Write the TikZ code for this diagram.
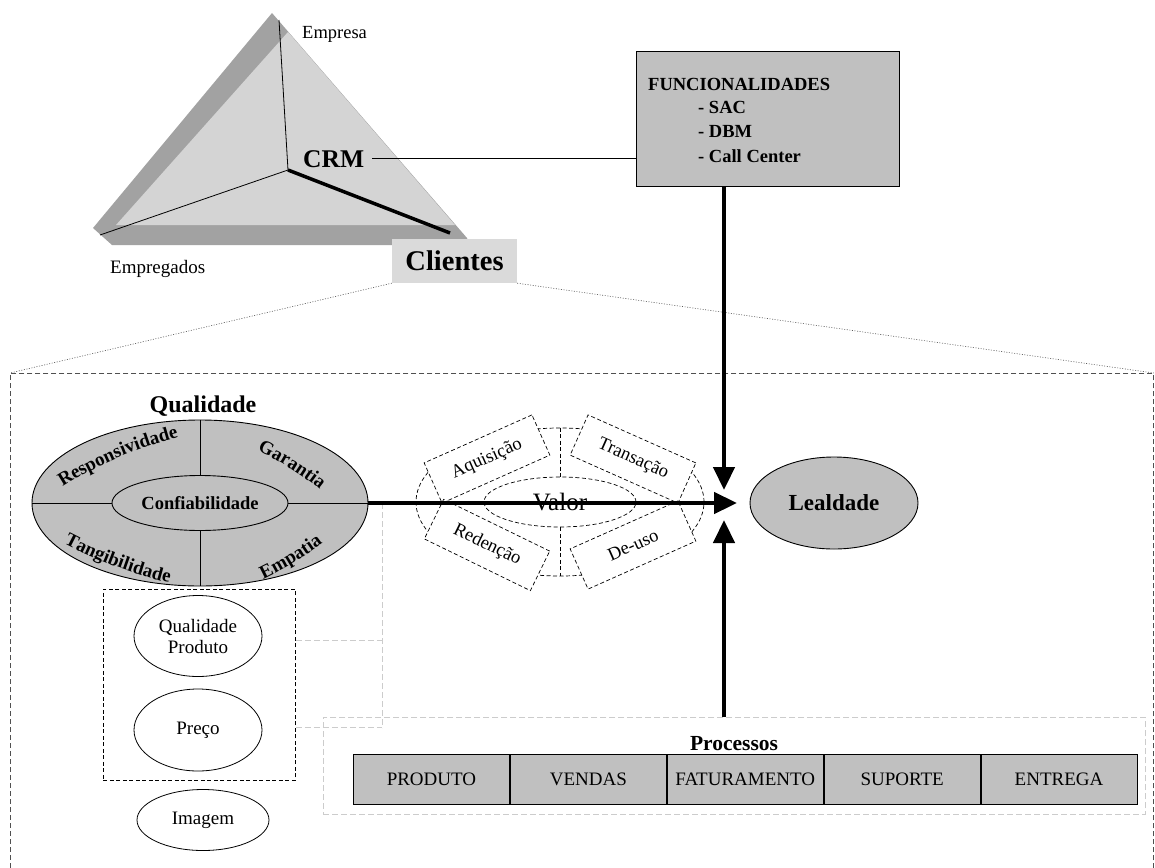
\documentclass[tikz,border=0pt]{standalone}
\usepackage{fontspec}
\setmainfont{Liberation Serif}
\usetikzlibrary{shapes.geometric,decorations.text,arrows.meta,calc}

\definecolor{boxgray}{HTML}{C0C0C0}
\definecolor{facegray}{HTML}{D4D4D4}
\definecolor{bandgray}{HTML}{A2A2A2}
\definecolor{tabgray}{HTML}{DADADA}
\definecolor{ghost}{HTML}{CCCCCC}
\definecolor{framegray}{HTML}{505050}

\newcommand{\pxfont}[1]{\fontsize{#1}{#1}\selectfont}

\begin{document}
\begin{tikzpicture}[x=1pt,y=1pt,
  graybox/.style={draw=black, fill=boxgray, line width=0.9pt},
  grayell/.style={ellipse, draw=black, fill=boxgray, line width=0.9pt, inner sep=0pt},
  whiteell/.style={ellipse, draw=black, fill=white, line width=0.8pt, inner sep=0pt, align=center, font=\fontsize{19}{21}\selectfont},
  valdash/.style={draw=black, dash pattern=on 4pt off 2.5pt, line width=0.7pt},
  valbox/.style={valdash, fill=white, minimum width=118pt, minimum height=44pt, inner sep=0pt, font=\pxfont{18.5}},
  bigarrow/.style={line width=4.5pt, -{Triangle[length=23pt,width=21pt]}},
  ghostline/.style={draw=ghost, dash pattern=on 6pt off 3pt, line width=0.8pt},
  dotline/.style={draw=black!65, dash pattern=on 1pt off 1.6pt, line width=0.6pt},
  procbox/.style={graybox, minimum width=156pt, minimum height=50pt, inner sep=0pt, font=\pxfont{19}},
  plain/.style={inner sep=0pt},
  arclabel/.style={decorate, decoration={text along path, text align=center, text={|\bfseries\pxfont{19}|#1}}},
]
\useasboundingbox (0,0) rectangle (1155,-867);

% ---------- CRM pyramid ----------
\fill[bandgray] (272,-13) -- (467,-238) -- (470,-245) -- (112,-245) -- (93,-228) -- cycle;
\fill[facegray] (288,-32) -- (455,-225) -- (116,-225) -- cycle;
\coordinate (hub) at (288,-170);
\coordinate (topend) at (279,-20);
\coordinate (leftend) at (100,-235);
\coordinate (rightend) at (450,-233);
\draw[line width=0.8pt] (hub) -- (topend);
\draw[line width=0.8pt] (hub) -- (leftend);
\draw[line width=3.5pt] (hub) -- (rightend);

\node[plain, anchor=base west, font=\pxfont{18.5}] (empresa) at (302,-39) {Empresa};
\node[plain, anchor=base west, font=\pxfont{19}] (empregados) at (110,-273) {Empregados};
\node[plain, anchor=base west, font=\bfseries\pxfont{25.5}] (crm) at (303,-167) {CRM};
\node[fill=tabgray, minimum width=125pt, minimum height=44pt, inner sep=0pt, font=\bfseries\pxfont{28.5}] (clientes) at (454.5,-261) {Clientes};

% ---------- functionalities ----------
\node[graybox, minimum width=263pt, minimum height=135pt, inner sep=0pt, anchor=north west] (funcbox) at (636,-51) {};
\node[plain, anchor=base west, font=\bfseries\pxfont{18.5}] (fntitle) at (648,-90) {FUNCIONALIDADES};
\node[plain, anchor=base west, font=\bfseries\pxfont{18.5}] (fnsac) at (698,-113) {- SAC};
\node[plain, anchor=base west, font=\bfseries\pxfont{18.5}] (fndbm) at (698,-137) {- DBM};
\node[plain, anchor=base west, font=\bfseries\pxfont{18.5}] (fncc) at (698,-162) {- Call Center};
\draw[line width=0.7pt, shorten <=8pt] (crm.east) -- (crm.east -| funcbox.west);

% ---------- expanded client view ----------
\node[draw=framegray, dash pattern=on 5pt off 3pt, line width=0.9pt, minimum width=1143pt, minimum height=520pt, anchor=north west, inner sep=0pt] (zoomframe) at (10,-373) {};
\draw[dotline] (clientes.south west) -- (zoomframe.north west);
\draw[dotline] (clientes.south east) -- (zoomframe.north east);

% light connectors towards the processes
\node[draw=black, dash pattern=on 4pt off 2.5pt, line width=0.8pt, minimum width=192pt, minimum height=191pt, anchor=north west, inner sep=0pt] (qpbox) at (103,-589) {};
\coordinate (gtop) at (382,-503);
\coordinate (gbot) at (382,-728);
\coordinate (ga) at ($(qpbox.north east)!0.27!(qpbox.south east)$);
\coordinate (gb) at ($(qpbox.north east)!0.72!(qpbox.south east)$);
\draw[ghostline] (gtop) -- (gbot);
\draw[ghostline] (ga) -- (ga -| gtop);
\draw[ghostline] (gb) -- (gb -| gtop);

% processes
\node[ghostline, minimum width=822pt, minimum height=97pt, anchor=north west, inner sep=0pt] (procs) at (323,-717) {};
\node[plain, anchor=base, font=\bfseries\pxfont{21.5}] (proctitle) at (734,-750) {Processos};
\node[procbox, anchor=north west] (p1) at (353,-754) {PRODUTO};
\node[procbox, anchor=west] (p2) at (p1.east) {VENDAS};
\node[procbox, anchor=west] (p3) at (p2.east) {FATURAMENTO};
\node[procbox, anchor=west] (p4) at (p3.east) {SUPORTE};
\node[procbox, anchor=west] (p5) at (p4.east) {ENTREGA};

% product, price and image
\node[whiteell, minimum width=128pt, minimum height=81pt] (qprod) at (198,-636) {Qualidade\\Produto};
\node[whiteell, minimum width=128pt, minimum height=82pt] (preco) at (198,-730) {Preço};
\node[whiteell, minimum width=132pt, minimum height=61pt] (imagem) at (203,-820) {Imagem};

% quality
\node[plain, anchor=base, font=\bfseries\pxfont{24}] (qualtitle) at (203,-412) {Qualidade};
\node[grayell, minimum width=336pt, minimum height=166pt] (qual) at (200,-503) {};
\node[grayell, minimum width=176pt, minimum height=55pt, font=\bfseries\pxfont{18.5}] (conf) at (200,-503) {Confiabilidade};
\draw[line width=0.9pt] (qual.north) -- (conf.north);
\draw[line width=0.9pt] (conf.south) -- (qual.south);
\draw[line width=0.9pt] (qual.west) -- (conf.west);
\draw[line width=0.9pt] (conf.east) -- (qual.east);
\path[arclabel=Responsividade] (58,-490) .. controls (96,-465) and (138,-447) .. (184,-436);
\path[arclabel=Garantia] (248,-447) .. controls (277,-459) and (303,-475) .. (328,-496);
\path[arclabel=Tangibilidade] (56,-539) .. controls (94,-560) and (134,-575) .. (178,-585);
\path[arclabel=Empatia] (253,-584) .. controls (282,-571) and (307,-556) .. (332,-536);

% value
\node[ellipse, valdash, minimum width=288pt, minimum height=148pt, inner sep=0pt] (valout) at (560,-502) {};
\node[ellipse, valdash, minimum width=152pt, minimum height=50pt, inner sep=0pt, font=\pxfont{25}] (valin) at (560,-502) {Valor};
\draw[valdash] (valout.north) -- (valin.north);
\draw[valdash] (valin.south) -- (valout.south);
\node[valbox, rotate=24] (aquis) at (487,-459) {Aquisição};
\node[valbox, rotate=-24] (trans) at (633,-459) {Transação};
\node[valbox, rotate=-26] (reden) at (487,-545) {Redenção};
\node[valbox, rotate=24] (deuso) at (633,-545) {De-uso};

% loyalty
\node[grayell, minimum width=168pt, minimum height=92pt, font=\bfseries\pxfont{23}] (leal) at (834,-503) {Lealdade};

% main arrows
\coordinate (tipdown) at (724,-490);
\coordinate (tipright) at (737,-503);
\coordinate (tipup) at (724,-520);
\draw[bigarrow] (funcbox.south -| tipdown) -- (tipdown);
\draw[bigarrow] (qual.east) -- (tipright);
\draw[bigarrow] (procs.north -| tipup) -- (tipup);

\end{tikzpicture}
\end{document}
